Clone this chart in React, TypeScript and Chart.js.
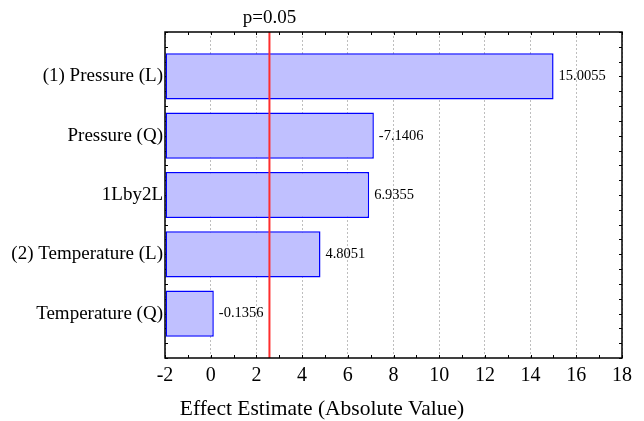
import React, { useEffect, useRef } from "react";
import { Chart, registerables } from "chart.js";

Chart.register(...registerables);

const categories = [
  "(1) Pressure (L)",
  "Pressure (Q)",
  "1Lby2L",
  "(2) Temperature (L)",
  "Temperature (Q)",
];
const effects = [15.0055, -7.1406, 6.9355, 4.8051, -0.1356];
const effectLabels = ["15.0055", "-7.1406", "6.9355", "4.8051", "-0.1356"];
const xTickValues = [-2, 0, 2, 4, 6, 8, 10, 12, 14, 16, 18];
const pCritical = 2.5706;
const pLabel = "p=0.05";
const xTitle = "Effect Estimate (Absolute Value)";

const SERIF = "'Liberation Serif', 'Times New Roman', serif";

const framePlugin = {
  id: "framePlugin",
  beforeDatasetsDraw(chart: any) {
    const { ctx, chartArea, scales } = chart;
    const xs = scales.x;
    const ys = scales.y;
    ctx.save();
    ctx.strokeStyle = "#000";
    ctx.lineWidth = 1;
    const tl = 3;
    ctx.beginPath();
    for (let v = xs.min; v <= xs.max + 1e-9; v += 1) {
      const px = Math.round(xs.getPixelForValue(v)) + 0.5;
      ctx.moveTo(px, chartArea.bottom);
      ctx.lineTo(px, chartArea.bottom - tl);
      ctx.moveTo(px, chartArea.top);
      ctx.lineTo(px, chartArea.top + tl);
    }
    for (let v = ys.min; v <= ys.max + 1e-9; v += 0.25) {
      const py = Math.round(ys.getPixelForValue(v)) + 0.5;
      ctx.moveTo(chartArea.left, py);
      ctx.lineTo(chartArea.left + tl, py);
      ctx.moveTo(chartArea.right, py);
      ctx.lineTo(chartArea.right - tl, py);
    }
    ctx.stroke();
    ctx.restore();
  },
  afterDatasetsDraw(chart: any) {
    const { ctx, chartArea, scales, width } = chart;
    const xs = scales.x;
    ctx.save();
    // red significance line
    const rx = xs.getPixelForValue(pCritical);
    ctx.strokeStyle = "rgb(255,45,45)";
    ctx.lineWidth = 2;
    ctx.beginPath();
    ctx.moveTo(rx, chartArea.top);
    ctx.lineTo(rx, chartArea.bottom);
    ctx.stroke();
    // frame
    ctx.strokeStyle = "#000";
    ctx.lineWidth = 1.5;
    ctx.strokeRect(
      chartArea.left,
      chartArea.top,
      chartArea.right - chartArea.left,
      chartArea.bottom - chartArea.top
    );
    ctx.fillStyle = "#000";
    // p label
    ctx.font = `19px ${SERIF}`;
    ctx.textAlign = "center";
    ctx.textBaseline = "middle";
    ctx.fillText(pLabel, rx, 18);
    // axis title (centred on the canvas)
    ctx.font = `21.5px ${SERIF}`;
    ctx.textBaseline = "alphabetic";
    ctx.fillText(xTitle, width / 2, 415);
    // value labels
    ctx.font = `14.5px ${SERIF}`;
    ctx.textAlign = "left";
    ctx.textBaseline = "middle";
    const meta = chart.getDatasetMeta(0);
    meta.data.forEach((bar: any, i: number) => {
      ctx.fillText(effectLabels[i], bar.x + 5, bar.y);
    });
    ctx.restore();
  },
};

export default function App() {
  const canvasRef = useRef<HTMLCanvasElement | null>(null);

  useEffect(() => {
    const canvas = canvasRef.current;
    if (!canvas) return;
    const chart = new Chart(canvas, {
      type: "bar",
      data: {
        datasets: [
          {
            data: effects.map((v, i) => ({ x: Math.abs(v), y: i })),
            base: xTickValues[0],
            backgroundColor: "rgb(192,192,255)",
            borderColor: "rgb(0,0,255)",
            borderWidth: 1.5,
            borderSkipped: false,
            barPercentage: 0.78,
            categoryPercentage: 1,
          } as any,
        ],
      },
      plugins: [framePlugin],
      options: {
        indexAxis: "y",
        animation: false,
        responsive: false,
        devicePixelRatio: 1,
        layout: { padding: { top: 32, right: 22, left: 0, bottom: 0 } },
        plugins: {
          legend: { display: false },
          tooltip: { enabled: false },
        },
        scales: {
          x: {
            type: "linear",
            position: "bottom",
            offset: false,
            min: xTickValues[0],
            max: xTickValues[xTickValues.length - 1],
            afterBuildTicks: (scale: any) => {
              scale.ticks = xTickValues.map((v) => ({ value: v }));
            },
            afterFit: (scale: any) => {
              scale.height = 63;
            },
            grid: {
              display: true,
              offset: false,
              drawTicks: false,
              color: "rgb(190,190,190)",
              lineWidth: 1,
            },
            border: { display: false, dash: [2, 2] },
            ticks: {
              color: "#000",
              padding: 6,
              font: { family: SERIF, size: 20 },
            },
            title: { display: false },
          },
          y: {
            type: "linear",
            reverse: true,
            offset: false,
            min: -0.75,
            max: 4.75,
            afterBuildTicks: (scale: any) => {
              scale.ticks = categories.map((_, i) => ({ value: i }));
            },
            afterFit: (scale: any) => {
              scale.width = 165;
            },
            grid: { display: false, drawTicks: false, offset: false },
            border: { display: false },
            ticks: {
              color: "#000",
              padding: 2,
              autoSkip: false,
              font: { family: SERIF, size: 19 },
              callback: (v: any) => categories[Math.round(Number(v))] ?? "",
            },
          },
        },
      } as any,
    });
    return () => chart.destroy();
  }, []);

  return (
    <div style={{ position: "fixed", left: 0, top: 0, width: 644, height: 421, background: "#fff" }}>
      <canvas ref={canvasRef} width={644} height={421} style={{ width: 644, height: 421 }} />
    </div>
  );
}
